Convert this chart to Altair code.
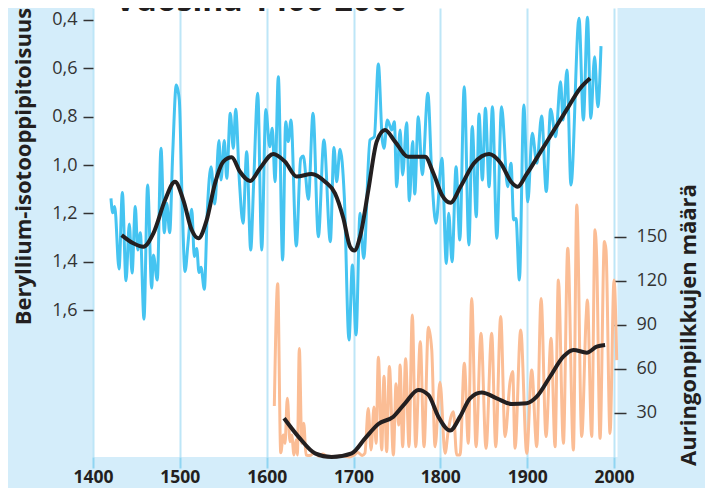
import altair as alt
import pandas as pd

title_text = "Vuosina 1400-2000"
left_title = "Beryllium-isotooppipitoisuus"
right_title = "Auringonpilkkujen määrä"
x_ticks = [1400, 1500, 1600, 1700, 1800, 1900, 2000]
be_ticks = [0.4, 0.6, 0.8, 1.0, 1.2, 1.4, 1.6]
ssn_ticks = [30, 60, 90, 120, 150]

# Beryllium-10 concentration (blue, noisy)
be_years = [1420.7, 1422.7, 1425, 1430, 1433.8, 1438, 1441.8, 1445, 1448.7, 1451.5,
            1454.5, 1458.7, 1462.9, 1467.6, 1469.5, 1474, 1478.3, 1482.1, 1484.9, 1488.3,
            1491.8, 1495.9, 1499.4, 1502.5, 1506, 1509.4, 1513.7, 1516.7, 1519.4, 1522.1,
            1524.4, 1528.2, 1531.7, 1535.9, 1540.2, 1545.1, 1547.4, 1551.2, 1554, 1558.1,
            1561.6, 1564.3, 1568.5, 1572.8, 1577, 1581.6, 1585, 1589.7, 1594.3, 1599,
            1603.5, 1606.5, 1609.6, 1613.4, 1618.4, 1621.9, 1624.9, 1628, 1634.1, 1639.2,
            1642.2, 1648, 1653.4, 1659.5, 1665.9, 1673.3, 1677.5, 1680.6, 1684.5, 1689.4,
            1694.8, 1698.7, 1702.9, 1707.5, 1711.7, 1719, 1724, 1728.6, 1733.1, 1735.1,
            1739, 1744, 1747, 1749.7, 1753.6, 1756.6, 1761.2, 1764.3, 1768.1, 1770.5,
            1774.6, 1779.2, 1785.6, 1790.2, 1794.9, 1801.8, 1806.9, 1809.6, 1813.5, 1818.1,
            1822.4, 1827.5, 1832.9, 1836.7, 1841.4, 1844.5, 1848.4, 1851.9, 1856.1, 1860,
            1865, 1870.5, 1877.4, 1881.4, 1884.4, 1887.1, 1891, 1896.1, 1900.7, 1905.8,
            1911.2, 1916.6, 1922, 1927, 1932.8, 1938.4, 1941.4, 1945.8, 1950.4, 1959.7,
            1964.7, 1969.4, 1973.3, 1977.6, 1981.4, 1985]
be_vals = [1.138, 1.198, 1.172, 1.43, 1.114, 1.479, 1.244, 1.447, 1.172, 1.352,
           1.28, 1.638, 1.083, 1.509, 1.372, 1.476, 0.931, 1.28, 1.158, 1.28,
           0.952, 0.669, 0.731, 1.131, 1.441, 1.324, 1.183, 1.379, 1.345, 1.445,
           1.423, 1.514, 1.186, 1.007, 1.161, 0.899, 1.062, 0.899, 1.055, 0.786,
           0.931, 0.769, 1.062, 1.241, 0.945, 1.352, 1.076, 0.703, 1.352, 0.77,
           0.924, 0.848, 1.069, 0.635, 1.393, 0.821, 0.903, 0.814, 1.335, 0.973,
           0.963, 1.142, 0.786, 1.297, 0.896, 1.317, 0.928, 1.069, 0.935, 1.131,
           1.724, 1.414, 1.703, 1.2, 1.386, 0.896, 0.883, 0.582, 0.896, 0.931,
           0.814, 0.855, 0.821, 1.09, 0.855, 1.041, 0.825, 1.148, 0.903, 1.12,
           0.8, 1.04, 0.703, 1.048, 1.241, 0.972, 1.407, 1.2, 1.4, 1.007,
           1.31, 0.676, 1.331, 0.841, 1.214, 0.789, 1.062, 0.765, 1.09, 0.759,
           1.303, 0.759, 1.09, 0.993, 1.227, 1.221, 1.476, 0.752, 1.152, 0.869,
           0.993, 0.797, 1.11, 0.769, 0.883, 0.655, 0.814, 0.607, 1.083, 0.393,
           0.814, 0.389, 0.807, 0.552, 0.759, 0.508]

# Smoothed beryllium curve (black)
bes_years = [1433, 1446.4, 1458, 1469.5, 1483, 1494.4, 1504, 1513.7, 1521.3, 1530.9,
             1540.5, 1550.1, 1559.7, 1569.3, 1580.8, 1592.3, 1607.7, 1621.1, 1634.6, 1651.8,
             1667.2, 1678.7, 1688.3, 1696, 1701, 1707.5, 1717.1, 1726.7, 1736.3, 1747.8,
             1763.1, 1782.4, 1792, 1801.8, 1811.6, 1823.2, 1838.7, 1856.1, 1869.7, 1881.4,
             1889.1, 1898.8, 1914.3, 1929.8, 1945.3, 1960.9, 1972.5]
bes_vals = [1.29, 1.324, 1.338, 1.283, 1.145, 1.069, 1.145, 1.269, 1.303, 1.228,
            1.076, 0.986, 0.968, 1.028, 1.066, 1.014, 0.954, 0.986, 1.048, 1.037,
            1.069, 1.117, 1.22, 1.338, 1.354, 1.297, 1.103, 0.903, 0.855, 0.903,
            0.966, 0.966, 1.034, 1.124, 1.156, 1.09, 0.993, 0.954, 0.993, 1.069,
            1.09, 1.041, 0.952, 0.862, 0.772, 0.683, 0.641]

# Sunspot numbers (orange)
ssn_years = [1608.8, 1612.7, 1616.2, 1619.2, 1621.1, 1623.8, 1626.9, 1628.8, 1631.5, 1633.8,
             1635.3, 1637.6, 1640.4, 1642.7, 1645.3, 1650, 1655, 1660, 1665, 1670,
             1675, 1680, 1685, 1690, 1695, 1700, 1705, 1710, 1713.1, 1717,
             1720.2, 1723.6, 1726, 1728.6, 1732.5, 1735.1, 1738.2, 1741.3, 1745.9, 1749,
             1752, 1753.6, 1756.6, 1760, 1763.9, 1767.7, 1771.6, 1776.9, 1781.2, 1786.2,
             1790.1, 1793.9, 1799.6, 1805.4, 1809.2, 1815, 1818.8, 1822.7, 1827.6, 1832.2,
             1836.1, 1841.1, 1846.8, 1852.6, 1859.1, 1863.8, 1869.5, 1874.5, 1880.3, 1883.3,
             1886, 1892.5, 1899.5, 1905.2, 1911, 1916, 1921.7, 1927.5, 1932.1, 1935.9,
             1941.7, 1946.7, 1953.2, 1957.1, 1962.8, 1967.8, 1969.3, 1974.3, 1978.1, 1980,
             1983.9, 1988.9, 1990.8, 1995.4, 2000, 2003.1]
ssn_vals = [34.8, 118, 2.9, 15, 9.3, 40, 10.4, 15, 1.4, 11.6,
            1.4, 74, 9.3, 23, 1.4, 1, 3, 0.5, 2, 0,
            0.5, 0, 1, 0.5, 0, 1, 3, 1, 2.5, 33,
            4.8, 34, 9.3, 68, 4.8, 55, 3.6, 61.6, 1.4, 50,
            21.8, 62.7, 7, 67, 7, 96.8, 7, 78.6, 7, 88.4,
            73, 7, 51, 2.5, 18.4, 30.9, 1.4, 1.4, 63.9, 9.3,
            108, 7, 84.3, 5.9, 84.3, 7, 95.7, 13.9, 51.4, 58.2,
            5.9, 86.6, 2.5, 59.3, 7, 108, 13.9, 80.9, 7, 120.7,
            9.3, 142.3, 4.8, 171.8, 13.9, 94.5, 107, 13.9, 154.8, 136.6,
            12.7, 146.8, 141, 16.1, 120.7, 66]

# Smoothed sunspot curve (black)
ssns_years = [1620, 1636.5, 1655.7, 1674.9, 1697.9, 1713.3, 1728.6, 1745.9, 1759.3, 1774.7,
              1786.2, 1797.7, 1811.2, 1822.7, 1834.2, 1847.6, 1864.9, 1882.2, 1899.5, 1911,
              1926.3, 1941.6, 1953.2, 1968.6, 1980.1, 1989.7]
ssns_vals = [26.4, 13.9, 2.5, 0, 2.5, 12.7, 22.5, 27.5, 36.6, 45.7,
             42.3, 27.5, 18, 27.5, 40, 44, 40, 36.1, 36.6, 41.1,
             54.7, 68.4, 73, 71.1, 75.2, 76.4]

assert len(be_years) == len(be_vals)
assert len(bes_years) == len(bes_vals)
assert len(ssn_years) == len(ssn_vals)
assert len(ssns_years) == len(ssns_vals)

df_be = pd.DataFrame({"year": be_years, "be": be_vals})
df_bes = pd.DataFrame({"year": bes_years, "be": bes_vals})
df_ssn = pd.DataFrame({"year": ssn_years, "ssn": ssn_vals})
df_ssns = pd.DataFrame({"year": ssns_years, "ssn": ssns_vals})

FONT = "Open Sans"
DARK = "#231f20"
BLUE = "#45c4f1"
ORANGE = "#fbbd95"

x_enc = alt.X(
    "year:Q",
    scale=alt.Scale(domain=[1400, 2004], nice=False, zero=False),
    axis=alt.Axis(values=x_ticks, format="d", grid=True, gridColor="#bde6f7", gridWidth=2,
                  tickColor="#8fd5f2", tickWidth=2, tickSize=11, domain=False,
                  labelFlush=False, labelOverlap=False,
                  labelFont=FONT, labelFontWeight="bold", labelFontSize=17.5,
                  labelColor=DARK, labelPadding=0, title=None),
)

be_scale = alt.Scale(domain=[0.3504, 2.208], reverse=True, nice=False, zero=False)
be_axis = alt.Axis(orient="left", values=be_ticks,
                   labelExpr="replace(format(datum.value, '.1f'), '.', ',')",
                   labelFlush=False, labelOverlap=False,
                   grid=False, domain=False, tickColor="#333333", tickWidth=1.5, tickSize=10,
                   labelFont=FONT, labelFontSize=18, labelColor="#333333", labelPadding=6,
                   title=left_title, titleFont=FONT, titleFontWeight="bold", titleFontSize=22,
                   titleColor=DARK, titleAngle=270, titleX=-70, titleY=158,
                   titleAlign="center", titleBaseline="middle")

ssn_scale = alt.Scale(domain=[0, 306], nice=False, zero=False)
ssn_axis = alt.Axis(orient="right", values=ssn_ticks, offset=-3.5,
                    labelFlush=False, labelOverlap=False,
                    grid=False, domain=False, tickColor="#333333", tickWidth=1.5, tickSize=12,
                    labelFont=FONT, labelFontSize=18, labelColor="#333333", labelPadding=10,
                    title=right_title, titleFont=FONT, titleFontWeight="bold", titleFontSize=22,
                    titleColor=DARK, titleAngle=270, titleX=74, titleY=316.5,
                    titleAlign="center", titleBaseline="middle")

orange = alt.Chart(df_ssn).mark_line(color=ORANGE, strokeWidth=3, interpolate="monotone").encode(
    x=x_enc, y=alt.Y("ssn:Q", scale=ssn_scale, axis=ssn_axis))
black_ssn = alt.Chart(df_ssns).mark_line(color=DARK, strokeWidth=4, interpolate="monotone").encode(
    x=x_enc, y=alt.Y("ssn:Q", scale=ssn_scale, axis=ssn_axis))

blue = alt.Chart(df_be).mark_line(color=BLUE, strokeWidth=3, interpolate="monotone").encode(
    x=x_enc, y=alt.Y("be:Q", scale=be_scale, axis=be_axis))
black_be = alt.Chart(df_bes).mark_line(color=DARK, strokeWidth=4, interpolate="monotone").encode(
    x=x_enc, y=alt.Y("be:Q", scale=be_scale, axis=be_axis))

title_layer = alt.Chart(pd.DataFrame({"t": [title_text]})).mark_text(
    align="left", baseline="alphabetic", font=FONT, fontWeight="bold", fontSize=32, color=DARK
).encode(x=alt.value(22), y=alt.value(3), text="t:N")

chart = alt.layer(
    alt.layer(orange, black_ssn),
    alt.layer(blue, black_be),
    title_layer,
).resolve_scale(y="independent").properties(
    width=524.5, height=449,
    autosize=alt.AutoSizeParams(type="none"),
    padding={"left": 85, "top": 0, "right": 87.5, "bottom": 31},
    background="#d4edfa",
).configure_view(fill="white", stroke=None)

chart.save("out.html", embed_options={"renderer": "svg", "actions": False})
